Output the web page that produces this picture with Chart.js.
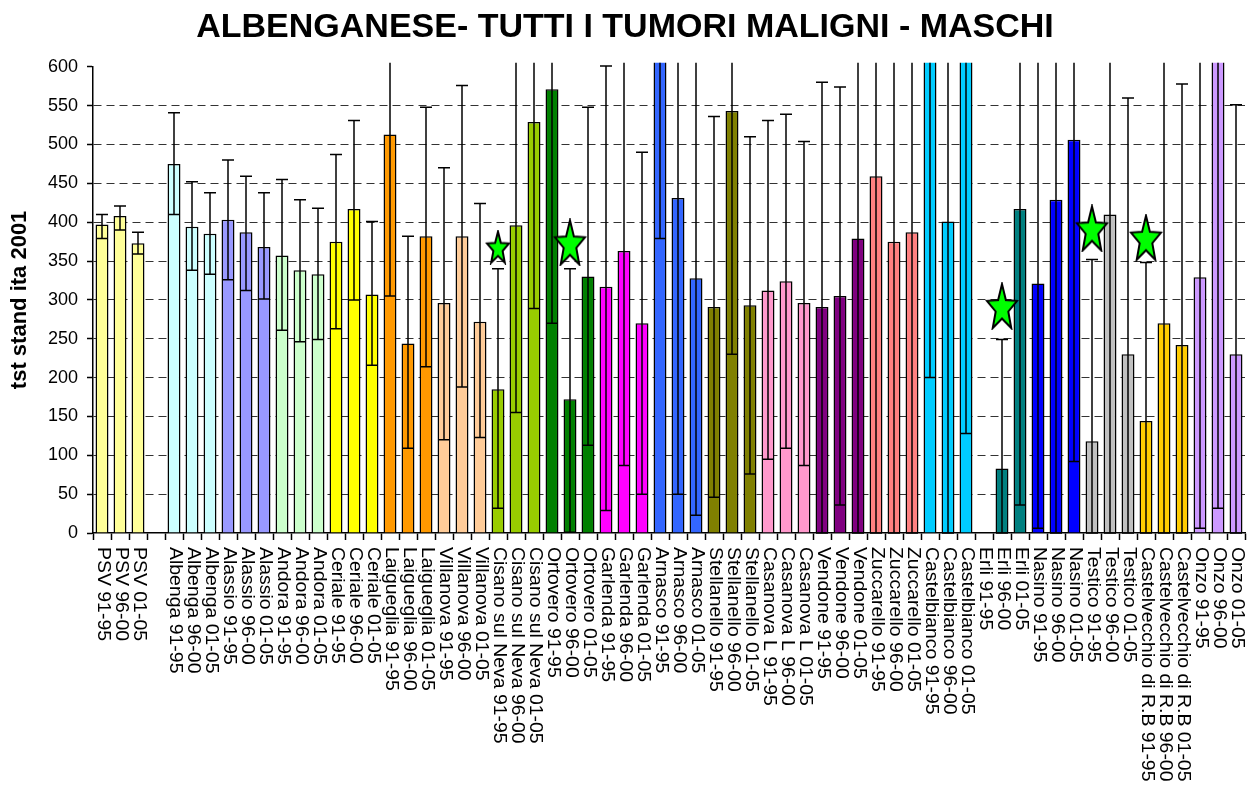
<!DOCTYPE html>
<html>
<head>
<meta charset="utf-8">
<script src="https://cdn.jsdelivr.net/npm/chart.js@4.4.1/dist/chart.umd.min.js"></script>
<style>
  html, body { margin: 0; padding: 0; background: #fff; }
  #wrap { width: 1250px; height: 785px; }
</style>
</head>
<body>
<div id="wrap"><canvas id="chart"></canvas></div>
<script>
const labels = [
  'PSV 91-95', 'PSV 96-00', 'PSV 01-05', '',
  'Albenga 91-95', 'Albenga 96-00', 'Albenga 01-05',
  'Alassio 91-95', 'Alassio 96-00', 'Alassio 01-05',
  'Andora 91-95', 'Andora 96-00', 'Andora 01-05',
  'Ceriale 91-95', 'Ceriale 96-00', 'Ceriale 01-05',
  'Laigueglia 91-95', 'Laigueglia 96-00', 'Laigueglia 01-05',
  'Villanova 91-95', 'Villanova 96-00', 'Villanova 01-05',
  'Cisano sul Neva 91-95', 'Cisano sul Neva 96-00', 'Cisano sul Neva 01-05',
  'Ortovero 91-95', 'Ortovero 96-00', 'Ortovero 01-05',
  'Garlenda 91-95', 'Garlenda 96-00', 'Garlenda 01-05',
  'Arnasco 91-95', 'Arnasco 96-00', 'Arnasco 01-05',
  'Stellanello 91-95', 'Stellanello 96-00', 'Stellanello 01-05',
  'Casanova L 91-95', 'Casanova L 96-00', 'Casanova L 01-05',
  'Vendone 91-95', 'Vendone 96-00', 'Vendone 01-05',
  'Zuccarello 91-95', 'Zuccarello 96-00', 'Zuccarello 01-05',
  'Castelbianco 91-95', 'Castelbianco 96-00', 'Castelbianco 01-05',
  'Erli 91-95', 'Erli 96-00', 'Erli 01-05',
  'Nasino 91-95', 'Nasino 96-00', 'Nasino 01-05',
  'Testico 91-95', 'Testico 96-00', 'Testico 01-05',
  'Castelvecchio di R.B 91-95', 'Castelvecchio di R.B 96-00', 'Castelvecchio di R.B 01-05',
  'Onzo 91-95', 'Onzo 96-00', 'Onzo 01-05'
];

// standardized rates (values above 600 are off the chart)
const rates = [
  397, 408, 373, null,
  475, 394, 385,
  403, 387, 368,
  357, 338, 333,
  375, 417, 307,
  513, 244, 382,
  296, 382, 272,
  185, 396, 529,
  571, 172, 330,
  317, 363, 270,
  700, 431, 328,
  291, 543, 293,
  312, 324, 296,
  291, 305, 379,
  459, 375, 387,
  700, 401, 700,
  0, 83, 417,
  321, 429, 506,
  118, 410, 230,
  144, 270, 242,
  329, 700, 230
];

const ciLow = [
  379, 390, 359, null,
  410, 338, 333,
  326, 312, 301,
  261, 246, 249,
  263, 300, 216,
  305, 109, 214,
  120, 188, 123,
  32, 155, 289,
  270, 1, 113,
  29, 87, 50,
  379, 50, 23,
  46, 230, 76,
  95, 109, 87,
  0, 36, 0,
  0, 0, 0,
  200, 0, 128,
  null, 0, 36,
  6, 0, 92,
  0, 0, 0,
  0, 0, 0,
  6, 32, 0
];

const ciHigh = [
  410, 421, 387, null,
  541, 452, 438,
  480, 459, 438,
  455, 429, 418,
  487, 531, 401,
  700, 382, 548,
  470, 576, 424,
  340, 700, 700,
  700, 340, 548,
  601, 700, 490,
  700, 700, 700,
  536, 700, 510,
  531, 539, 504,
  580, 574, 700,
  700, 700, 700,
  700, 700, 700,
  null, 249, 700,
  700, 700, 700,
  352, 700, 560,
  348, 700, 578,
  700, 700, 551
];

const starLabels = ['Cisano sul Neva 91-95', 'Ortovero 96-00', 'Erli 96-00', 'Testico 91-95', 'Castelvecchio di R.B 91-95'];
const starValues = [368, 374, 292, 392, 380];

const yTicks = [0, 50, 100, 150, 200, 250, 300, 350, 400, 450, 500, 550, 600];

// PSV, Albenga, Alassio, ... Onzo
const townColors = [
  '#FFFF99', '#CCFFFF', '#9999FF', '#CCFFCC', '#FFFF00', '#FF9900', '#FFCC99',
  '#99CC00', '#008000', '#FF00FF', '#3366FF', '#808000', '#FF99CC', '#800080',
  '#FF8080', '#00CCFF', '#008080', '#0000FF', '#C0C0C0', '#FFCC00', '#CC99FF'
];
const barColors = labels.map((l, i) => i < 3 ? townColors[0] : i === 3 ? 'transparent' : townColors[1 + Math.floor((i - 4) / 3)]);

const FONT = "'Liberation Sans', Arial, sans-serif";

function makeStar(w, h) {
  const c = document.createElement('canvas');
  c.width = w + 4;
  c.height = h + 4;
  const g = c.getContext('2d');
  const sx = w / 2 / 0.951, sy = h / 1.809;
  g.translate(c.width / 2, c.height / 2 + 0.0955 * sy);
  g.beginPath();
  for (let i = 0; i < 10; i++) {
    const r = i % 2 ? 0.42 : 1;
    const a = -Math.PI / 2 + i * Math.PI / 5;
    g.lineTo(Math.cos(a) * r * sx, Math.sin(a) * r * sy);
  }
  g.closePath();
  g.fillStyle = '#00FF00';
  g.fill();
  g.lineWidth = 2;
  g.strokeStyle = '#000';
  g.stroke();
  return c;
}
const smallStar = makeStar(22, 31);
const bigStar = makeStar(30, 44);

const errorBars = {
  id: 'errorBars',
  afterDatasetDraw(chart, args) {
    if (args.index !== 0) return;
    const { ctx, chartArea } = chart;
    const y = chart.scales.y;
    ctx.save();
    ctx.beginPath();
    ctx.rect(chartArea.left, chartArea.top - 4, chartArea.right - chartArea.left, chartArea.bottom - chartArea.top + 6);
    ctx.clip();
    ctx.strokeStyle = '#000';
    ctx.lineWidth = 1.5;
    args.meta.data.forEach((bar, i) => {
      if (ciLow[i] == null || ciHigh[i] == null) return;
      const x = bar.x;
      const y1 = y.getPixelForValue(ciLow[i]);
      const y2 = y.getPixelForValue(ciHigh[i]);
      ctx.beginPath();
      ctx.moveTo(x, y1); ctx.lineTo(x, y2);
      ctx.moveTo(x - 6, y1); ctx.lineTo(x + 6, y1);
      ctx.moveTo(x - 6, y2); ctx.lineTo(x + 6, y2);
      ctx.stroke();
    });
    ctx.restore();
  }
};

const verticalLabels = {
  id: 'verticalLabels',
  afterDraw(chart) {
    const { ctx } = chart;
    const xs = chart.scales.x;
    ctx.save();
    ctx.font = '18px ' + FONT;
    ctx.fillStyle = '#000';
    ctx.textAlign = 'left';
    ctx.textBaseline = 'middle';
    labels.forEach((lab, i) => {
      if (!lab) return;
      ctx.save();
      ctx.translate(xs.getPixelForValue(i) + 1, xs.top + 14);
      ctx.rotate(Math.PI / 2);
      ctx.scale(1.08, 1);
      ctx.fillText(lab, 0, 0);
      ctx.restore();
    });
    ctx.restore();
  }
};

new Chart(document.getElementById('chart'), {
  type: 'bar',
  data: {
    labels: labels,
    datasets: [{
      label: 'tst stand ita 2001',
      data: rates,
      backgroundColor: barColors,
      borderColor: '#000',
      borderWidth: 1.5,
      categoryPercentage: 1,
      barPercentage: 0.72,
      clip: { left: 2, top: 4, right: 2, bottom: 2 },
      order: 2
    }, {
      type: 'line',
      label: 'significativo',
      data: starLabels.map((l, i) => ({ x: l, y: starValues[i] })),
      showLine: false,
      pointStyle: ctx => ctx.raw && ctx.raw.x === 'Cisano sul Neva 91-95' ? smallStar : bigStar,
      order: 1
    }]
  },
  options: {
    responsive: true,
    maintainAspectRatio: false,
    animation: false,
    layout: { padding: { top: 0, right: 0, bottom: 245, left: 0 } },
    plugins: {
      legend: { display: false },
      tooltip: { enabled: false },
      title: {
        display: true,
        text: 'ALBENGANESE- TUTTI I TUMORI MALIGNI - MASCHI',
        color: '#000',
        font: { family: FONT, size: 34, weight: 'bold' },
        padding: { top: 7, bottom: 19 }
      }
    },
    scales: {
      x: {
        offset: true,
        grid: { display: true, drawOnChartArea: false, drawTicks: true, tickLength: 7, tickColor: '#000', tickWidth: 1.5, offset: true },
        border: { display: true, color: '#000', width: 1.5 },
        ticks: { display: false }
      },
      y: {
        min: 0,
        max: 600,
        afterFit: s => { s.width = 93; },
        afterBuildTicks: s => { s.ticks = yTicks.map(v => ({ value: v })); },
        title: {
          display: true,
          text: 'tst stand ita 2001',
          color: '#000',
          font: { family: FONT, size: 22, weight: 'bold' },
          padding: { top: 7, bottom: 0 }
        },
        ticks: { color: '#000', font: { family: FONT, size: 18 }, padding: 9 },
        grid: {
          color: c => (c.tick && (c.tick.value === 0 || c.tick.value === 600)) ? 'rgba(0,0,0,0)' : '#333',
          lineWidth: 1,
          tickLength: 6,
          tickColor: '#000',
          tickWidth: 1.5,
          tickBorderDash: []
        },
        border: { display: true, color: '#000', width: 1.5, dash: [8, 5] }
      }
    }
  },
  plugins: [errorBars, verticalLabels]
});
</script>
</body>
</html>
